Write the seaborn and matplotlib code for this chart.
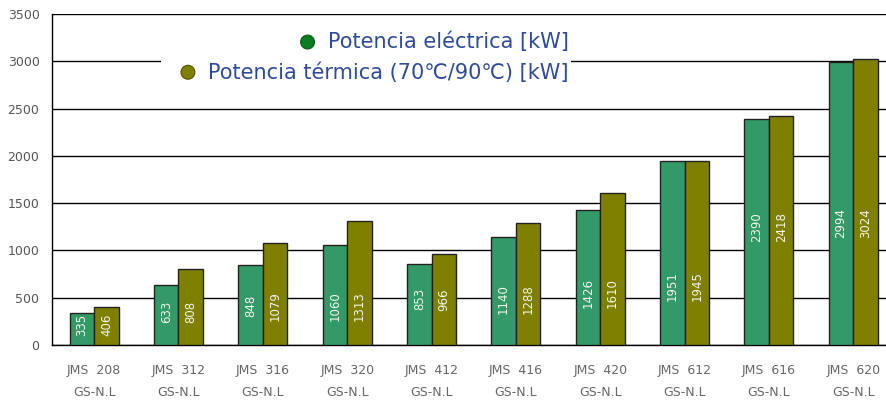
import numpy as np
import pandas as pd
import matplotlib
matplotlib.use("Agg")
import matplotlib.pyplot as plt
import seaborn as sns
from matplotlib.offsetbox import AnchoredOffsetbox, HPacker, VPacker, TextArea, DrawingArea
from matplotlib.patches import Circle

# datos
modelos = ["208", "312", "316", "320", "412", "416", "420", "612", "616", "620"]
pot_electrica = [335, 633, 848, 1060, 853, 1140, 1426, 1951, 2390, 2994]
pot_termica = [406, 808, 1079, 1313, 966, 1288, 1610, 1945, 2418, 3024]
serie_names = ["Potencia eléctrica [kW]", "Potencia térmica (70\u2103/90\u2103) [kW]"]
# altura (en kW) donde va el texto dentro de las barras
label_y = [210, 347, 410, 410, 483, 483, 550, 620, 1250, 1293]

tick_labels = ["JMS  %s\nGS-N.L" % m for m in modelos]

df = pd.DataFrame({
    "modelo": modelos * 2,
    "valor": pot_electrica + pot_termica,
    "serie": [serie_names[0]] * len(modelos) + [serie_names[1]] * len(modelos),
})

sns.set_style("white")
plt.rcParams["font.family"] = ["DejaVu Sans"]

fig = plt.figure(figsize=(8.87, 4.04), dpi=100)
ax = fig.add_axes([0.0586, 0.146, 0.9414, 0.819])

colores = ["#339966", "#808000"]
sns.barplot(data=df, x="modelo", y="valor", hue="serie", palette=colores,
            width=0.58, edgecolor="#222222", linewidth=1, ax=ax, legend=False,
            saturation=1, zorder=3)

# etiquetas dentro de las barras
for cont, vals in zip(ax.containers, [pot_electrica, pot_termica]):
    for bar, v, ly in zip(cont, vals, label_y):
        ax.text(bar.get_x() + bar.get_width() / 2, ly, str(v), rotation=90,
                ha="center", va="center", color="#f2f5ee", fontsize=8.5, zorder=4)

ax.set_ylim(0, 3500)
ax.set_xlim(-0.5, 9.4)
ax.set_yticks(np.arange(0, 3501, 500))
ax.yaxis.grid(True, color="black", linewidth=1)
ax.set_axisbelow(True)
ax.set_xticks(range(len(modelos)))
ax.set_xticklabels(tick_labels, color="#666666", fontsize=9, linespacing=1.85)
ax.set_xticks(np.arange(-0.5, 9.5, 1), minor=True)
ax.tick_params(axis="x", which="major", length=0, pad=14)
ax.tick_params(axis="x", which="minor", length=5, width=1, color="black", direction="out")
ax.tick_params(axis="y", length=6, width=1, color="black", direction="out",
               labelcolor="#555555", labelsize=9, pad=3)
ax.set_xlabel("")
ax.set_ylabel("")
for s in ["top", "right"]:
    ax.spines[s].set_visible(False)
for s in ["left", "bottom"]:
    ax.spines[s].set_color("black")
    ax.spines[s].set_linewidth(1)

# leyenda
filas = []
for name, fc, ec in [(serie_names[0], "#0b7d1f", "#0a5a18"),
                     (serie_names[1], "#7f7f00", "#555500")]:
    da = DrawingArea(11, 11, 0, 0)
    da.add_artist(Circle((5.5, 5.5), 5, facecolor=fc, edgecolor=ec, linewidth=0.8))
    ta = TextArea(name, textprops=dict(color="#2e4b9b", fontsize=15))
    filas.append(HPacker(children=[da, ta], align="center", pad=0, sep=9))
caja = VPacker(children=filas, align="right", pad=0, sep=7)
espacio = DrawingArea(12, 1, 0, 0)
caja = HPacker(children=[espacio, caja], align="center", pad=0, sep=0)
anch = AnchoredOffsetbox(loc="center right", child=caja, pad=0.2, borderpad=0,
                         frameon=True, bbox_to_anchor=(0.622, 0.87),
                         bbox_transform=ax.transAxes)
anch.patch.set_facecolor("white")
anch.patch.set_edgecolor("none")
anch.set_zorder(5)
ax.add_artist(anch)

fig.savefig("out.png", dpi=100)
